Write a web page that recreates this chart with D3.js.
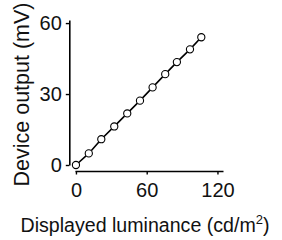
<!DOCTYPE html>
<html><head><meta charset="utf-8">
<script src="https://cdn.jsdelivr.net/npm/d3@7"></script>
<style>body{margin:0;background:#fff}svg{display:block}text{font-family:"Liberation Sans",Arial,sans-serif;fill:#111}</style>
</head><body><svg id="c" width="282" height="240"></svg>
<script>
const luminance = [0, 10.9, 21.5, 32.5, 43.5, 54.3, 65.0, 75.7, 85.6, 96.7, 106.3];
const output = [0, 4.9, 10.9, 16.3, 21.8, 27.2, 32.8, 38.4, 43.5, 48.9, 54.0];
const xTicks = [0, 60, 120];
const yTicks = [0, 30, 60];
const xTitle = "Displayed luminance (cd/m";
const xSup = "2";
const yTitle = "Device output (mV)";

const svg = d3.select("#c");
const x = d3.scaleLinear().domain([-0.8, 124.7]).range([75, 223]);
const y = d3.scaleLinear().domain([0, 61.3]).range([165, 20]);

const gx = svg.append("g").attr("transform", "translate(0,171)")
  .call(d3.axisBottom(x).tickValues(xTicks).tickSize(3.5).tickSizeOuter(0).tickPadding(8));
const gy = svg.append("g").attr("transform", "translate(69.3,0)")
  .call(d3.axisLeft(y).tickValues(yTicks).tickSize(3.5).tickSizeOuter(0).tickPadding(4));
[gx, gy].forEach(g => {
  g.select(".domain").attr("stroke", "#000").attr("stroke-width", 1.6);
  g.selectAll(".tick line").attr("stroke", "#000").attr("stroke-width", 1.4);
  g.selectAll(".tick text").attr("font-size", 20).attr("font-family", "Liberation Sans, Arial, sans-serif").attr("fill", "#111");
});

const pts = luminance.map((v, i) => [v, output[i]]);
svg.append("path").datum(pts)
  .attr("d", d3.line().x(d => x(d[0])).y(d => y(d[1])))
  .attr("fill", "none").attr("stroke", "#000").attr("stroke-width", 1.6);
svg.append("g").selectAll("circle").data(pts).join("circle")
  .attr("cx", d => x(d[0])).attr("cy", d => y(d[1])).attr("r", 3.6)
  .attr("fill", "#fff").attr("stroke", "#000").attr("stroke-width", 1.1);

const xt = svg.append("text").attr("x", 145).attr("y", 231.5).attr("text-anchor", "middle").attr("font-size", 19.6);
xt.append("tspan").text(xTitle);
xt.append("tspan").text(xSup).attr("font-size", 13).attr("dy", -8);
xt.append("tspan").text(")").attr("dy", 8);

svg.append("text").attr("transform", "translate(28.5,94.5) rotate(-90)")
  .attr("text-anchor", "middle").attr("font-size", 21.5).text(yTitle);
</script></body></html>
